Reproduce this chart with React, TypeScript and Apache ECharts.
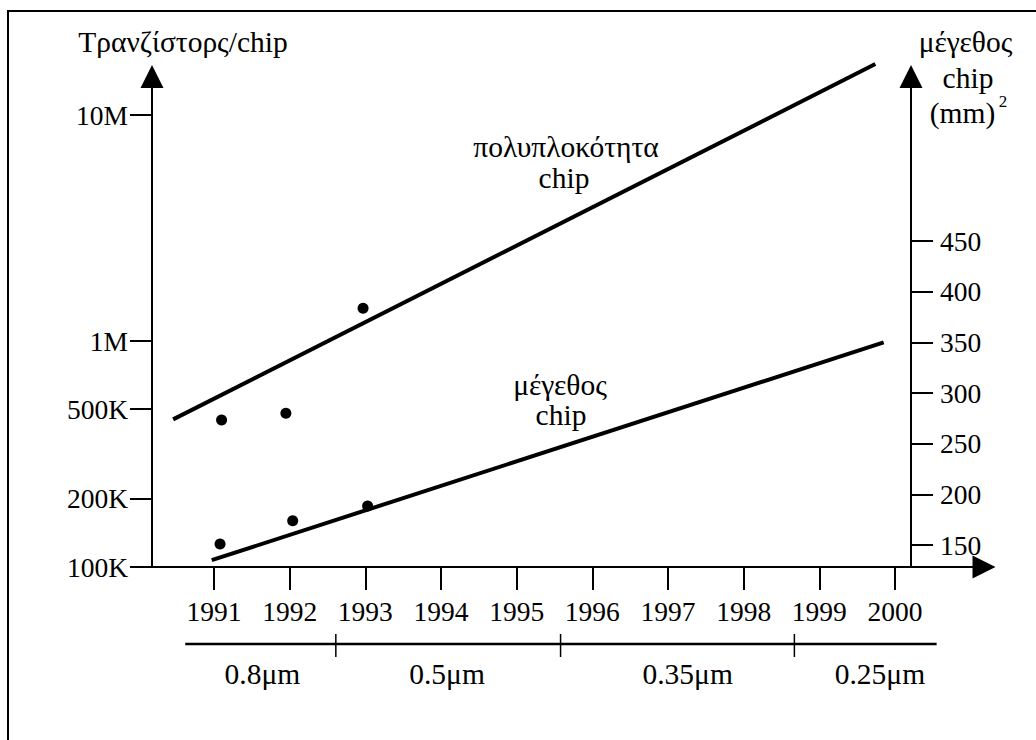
import { useEffect, useRef } from "react";
import * as echarts from "echarts";

// ---- data ----
const years = [1991, 1992, 1993, 1994, 1995, 1996, 1997, 1998, 1999, 2000];

const transistorTicks = [100000, 200000, 500000, 1000000, 10000000];
const transistorTickLabels = ["100K", "200K", "500K", "1M", "10M"];
const sizeTicks = [150, 200, 250, 300, 350, 400, 450];

// chip complexity (transistors / chip)
const complexityTrendYears = [1990.46, 1999.74];
const complexityTrendValues = [450000, 16800000];
const complexityPointYears = [1991.1, 1991.95, 1992.97];
const complexityPointValues = [447000, 479000, 1395000];

// chip size (mm^2)
const sizeTrendYears = [1990.97, 1999.85];
const sizeTrendValues = [135, 350];
const sizePointYears = [1991.08, 1992.04, 1993.03];
const sizePointValues = [151, 174, 188.5];

// process technology
const nodeNames = ["0.8μm", "0.5μm", "0.35μm", "0.25μm"];
const nodeBoundaryYears = [1990.62, 1992.61, 1995.58, 1998.67, 2000.55];
const nodeLabelYears = [1991.64, 1994.08, 1997.26, 1999.8];

const FONT = "Liberation Serif";

export default function App() {
  const ref = useRef<HTMLDivElement>(null);

  useEffect(() => {
    const chart = echarts.init(ref.current!, null, { renderer: "svg" });
    const axisLineStyle = { color: "#000", width: 2 };
    const labelStyle = { color: "#000", fontSize: 27.5, fontFamily: FONT };
    const arrowLine = {
      show: true,
      onZero: false,
      lineStyle: axisLineStyle,
      symbol: ["none", "triangle"],
      symbolSize: [23, 23],
    };

    const option: any = {
      animation: false,
      backgroundColor: "#fff",
      grid: { left: 152, right: 52, top: 76.5, bottom: 173, containLabel: false },
      xAxis: {
        type: "value",
        min: 1990.1806,
        max: 2001.176,
        axisLine: arrowLine,
        axisTick: { show: true, length: 23, lineStyle: axisLineStyle, customValues: years },
        axisLabel: {
          ...labelStyle,
          customValues: years,
          margin: 30,
          formatter: (v: number) => String(Math.round(v)),
        },
        splitLine: { show: false },
      },
      yAxis: [
        {
          type: "log",
          logBase: 10,
          position: "left",
          min: 100000,
          max: Math.pow(10, 5 + 490.5 / 226),
          axisLine: arrowLine,
          axisTick: { show: true, length: 22, lineStyle: axisLineStyle, customValues: transistorTicks },
          axisLabel: {
            ...labelStyle,
            customValues: transistorTicks,
            margin: 24,
            formatter: (v: number) => {
              let best = 0;
              transistorTicks.forEach((t, i) => {
                if (Math.abs(Math.log10(t) - Math.log10(v)) < Math.abs(Math.log10(transistorTicks[best]) - Math.log10(v))) best = i;
              });
              return transistorTickLabels[best];
            },
          },
          splitLine: { show: false },
        },
        {
          type: "value",
          position: "right",
          offset: -73,
          min: 128.29,
          max: 612.35,
          axisLine: arrowLine,
          axisTick: { show: true, length: 22, lineStyle: axisLineStyle, customValues: sizeTicks },
          axisLabel: {
            ...labelStyle,
            customValues: sizeTicks,
            margin: 29,
            formatter: (v: number) => String(Math.round(v)),
          },
          splitLine: { show: false },
        },
      ],
      series: [
        {
          type: "line",
          yAxisIndex: 0,
          clip: false,
          symbol: "none",
          lineStyle: { color: "#000", width: 4 },
          data: complexityTrendYears.map((y, i) => [y, complexityTrendValues[i]]),
        },
        {
          type: "scatter",
          yAxisIndex: 0,
          clip: false,
          symbolSize: 11,
          itemStyle: { color: "#000", opacity: 1 },
          data: complexityPointYears.map((y, i) => [y, complexityPointValues[i]]),
        },
        {
          type: "line",
          yAxisIndex: 1,
          clip: false,
          symbol: "none",
          lineStyle: { color: "#000", width: 4 },
          data: sizeTrendYears.map((y, i) => [y, sizeTrendValues[i]]),
        },
        {
          type: "scatter",
          yAxisIndex: 1,
          clip: false,
          symbolSize: 11,
          itemStyle: { color: "#000", opacity: 1 },
          data: sizePointYears.map((y, i) => [y, sizePointValues[i]]),
        },
      ],
    };
    chart.setOption(option);

    const title = (text: string, x: number, y: number, size = 29.5) => ({
      text,
      left: x,
      top: y,
      padding: 0,
      textAlign: "center",
      textVerticalAlign: "middle",
      textStyle: { color: "#000", fontSize: size, fontFamily: FONT, fontWeight: "normal" },
    });

    const px = (yr: number) => chart.convertToPixel({ xAxisIndex: 0 }, yr) as number;
    const barY = 644;
    const titles: any[] = [
      title("Τρανζίστορς/chip", 183, 42),
      title("μέγεθος", 965.5, 42),
      title("chip", 968, 78),
      title("(mm)", 962.5, 113),
      title("2", 1003, 101, 17),
      title("πολυπλοκότητα", 566, 147),
      title("chip", 564, 177.5),
      title("μέγεθος", 560, 385),
      title("chip", 561, 415),
    ];
    nodeNames.forEach((n, i) => titles.push(title(n, px(nodeLabelYears[i]), 674)));

    const graphics: any[] = [
      {
        type: "polyline",
        shape: { points: [[8, 760], [8, 11], [1060, 11]] },
        style: { stroke: "#000", lineWidth: 2, fill: "none" },
      },
      {
        type: "line",
        shape: { x1: px(nodeBoundaryYears[0]), y1: barY, x2: px(nodeBoundaryYears[nodeBoundaryYears.length - 1]), y2: barY },
        style: { stroke: "#000", lineWidth: 2.5 },
      },
    ];
    nodeBoundaryYears.slice(1, -1).forEach((yr) => {
      graphics.push({
        type: "line",
        shape: { x1: px(yr), y1: 634, x2: px(yr), y2: 657 },
        style: { stroke: "#000", lineWidth: 1.5 },
      });
    });
    chart.setOption({ title: titles, graphic: graphics });

    return () => chart.dispose();
  }, []);

  return (
    <div
      ref={ref}
      style={{ position: "absolute", left: 0, top: 0, width: 1036, height: 740, overflow: "hidden", background: "#fff" }}
    />
  );
}
